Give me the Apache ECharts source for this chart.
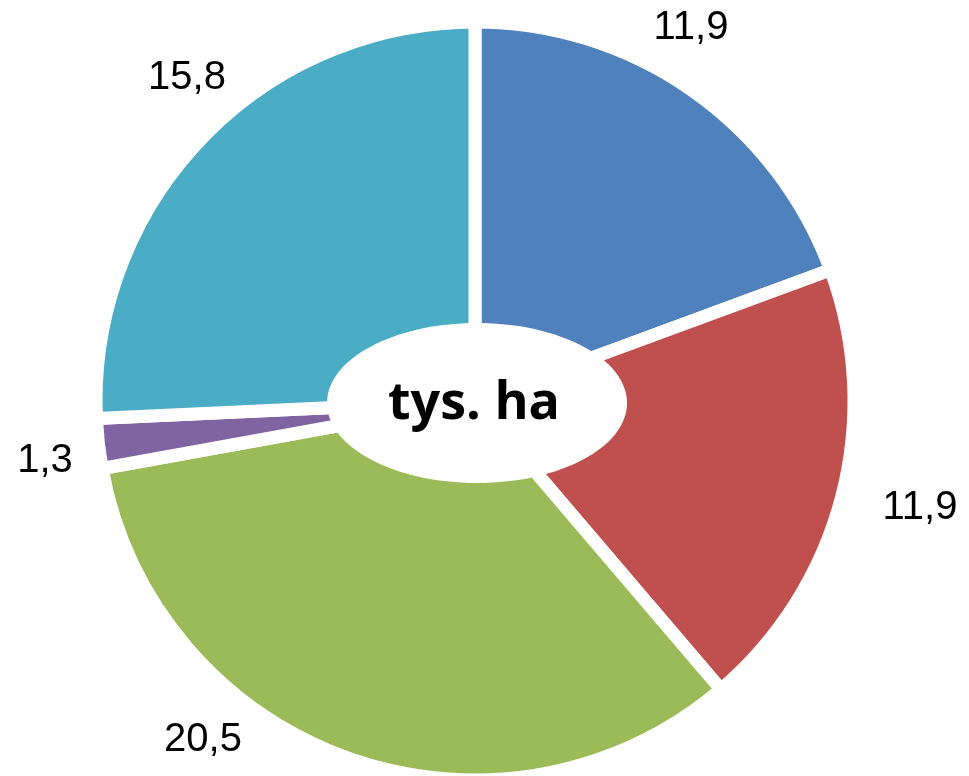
<!DOCTYPE html>
<html>
<head>
<meta charset="utf-8">
<script src="https://cdn.jsdelivr.net/npm/echarts@6/dist/echarts.min.js"></script>
<style>
  html, body { margin: 0; padding: 0; background: #fff; }
  #chart { width: 969px; height: 776px; }
</style>
</head>
<body>
<div id="chart"></div>
<script>
// dane (tys. ha)
var categories = ['A', 'B', 'C', 'D', 'E'];
var values = [11.9, 11.9, 20.5, 1.3, 15.8];
var colors = ['#4F81BD', '#C0504D', '#9BBB59', '#8064A2', '#4BACC6'];

// gdzie stoją etykiety (środek tekstu), tak jak w Excelu
var labelAnchors = [[691, 28], [920, 508], [203, 740], [45, 461], [187, 78]];

var myChart = echarts.init(document.getElementById('chart'));

var pieData = categories.map(function (c, i) {
    return { name: c, value: values[i], itemStyle: { color: colors[i] } };
});

myChart.setOption({
    backgroundColor: '#fff',
    animation: false,
    series: [{
        type: 'pie',
        center: [475, 401],
        radius: [0, 379],
        startAngle: 90,
        clockwise: true,
        avoidLabelOverlap: false,
        itemStyle: {
            borderColor: '#fff',
            borderWidth: 13
        },
        label: {
            show: true,
            position: 'outside',
            fontFamily: 'Liberation Sans, Arial, sans-serif',
            fontSize: 40,
            color: '#000',
            formatter: function (p) {
                return String(p.value).replace('.', ',');
            }
        },
        labelLine: { show: false, length: 30, length2: 0 },
        labelLayout: function (p) {
            var a = labelAnchors[p.dataIndex];
            return { x: a[0], y: a[1], align: 'center', verticalAlign: 'middle' };
        },
        data: pieData
    }],
    graphic: [{
        type: 'ellipse',
        z: 100,
        shape: { cx: 477, cy: 403, rx: 150, ry: 80 },
        style: { fill: '#fff' }
    }, {
        type: 'text',
        z: 101,
        x: 474,
        y: 404,
        style: {
            text: 'tys. ha',
            fontFamily: 'Open Sans, sans-serif',
            fontWeight: 'bold',
            fontSize: 52,
            fill: '#000',
            align: 'center',
            verticalAlign: 'middle'
        }
    }]
});
</script>
</body>
</html>
